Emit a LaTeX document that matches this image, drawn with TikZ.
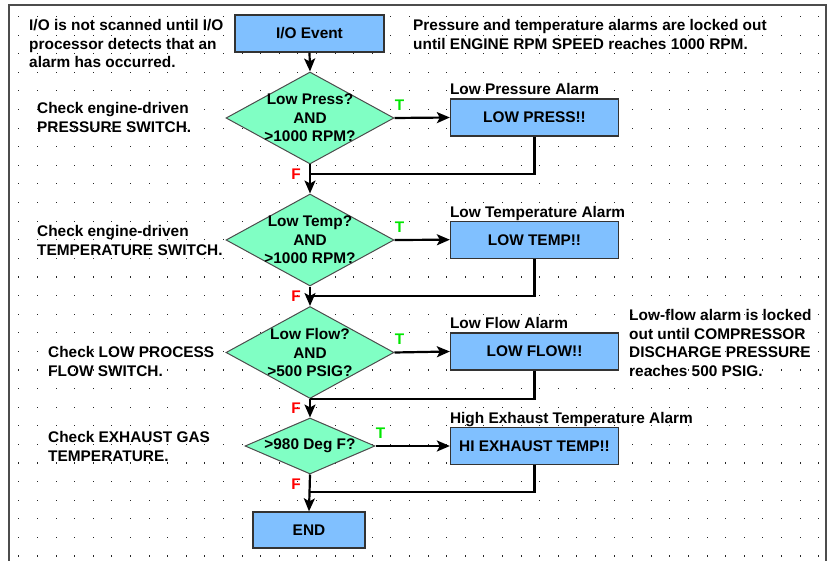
\documentclass[tikz,border=0pt]{standalone}
\usepackage{fontspec}
\setmainfont{Liberation Sans}
\usetikzlibrary{shapes.geometric}
\usepgflibrary{arrows.meta}
\definecolor{boxblue}{RGB}{128,192,255}
\definecolor{diagreen}{RGB}{128,255,196}
\definecolor{tgreen}{RGB}{0,230,0}
\definecolor{fred}{RGB}{255,0,0}
\newcommand{\chartfont}{\fontsize{15.4}{18.5}\selectfont\bfseries}

\begin{document}
\begin{tikzpicture}[x=1pt,y=-1pt,
	note/.style={font=\chartfont, inner sep=0pt, align=left, anchor=north west},
	alarm/.style={draw=black!80, line width=1.3pt, fill=boxblue, minimum width=168pt, minimum height=37pt, inner sep=0pt, font=\chartfont},
	decision/.style={diamond, draw=black!70, line width=1pt, fill=diagreen, inner sep=0pt, minimum width=168pt, minimum height=92pt},
	dtxt/.style={font=\chartfont, inner sep=0pt, align=center},
	tlab/.style={font=\chartfont, text=tgreen, inner sep=0pt},
	flab/.style={font=\chartfont, text=fred, inner sep=0pt},
	line/.style={line width=2.2pt},
	flow/.style={line width=2.2pt, -{Stealth[length=13pt,width=11pt,inset=3pt]}}]

		\useasboundingbox (0,0) rectangle (834,561);
		\foreach \i in {0,...,43}
			\foreach \j in {0,...,29}
				\fill[black!85] (18.3+18.6*\i,16+18.6*\j) rectangle ++(1.1,1.1);
		\draw [line width=2pt, black!70] (8.5,561) |- (826,5) -- (826,561);

		\node[alarm, minimum width=149pt] (ioevent) at (309.5,33.5) {I/O Event};
		\node[decision] (press) at (310,118) {};
		\node[decision] (temp) at (310,240) {};
		\node[decision] (flow) at (310,352.5) {};
		\node[decision, minimum width=130pt, minimum height=56pt] (exh) at (310,446) {};
		\node[alarm, minimum width=112pt, minimum height=36pt] (endbox) at (309,530) {END};

		\node[dtxt] (presstxt) at (press.center) {Low Press?\\AND\\>1000 RPM?};
		\node[dtxt] (temptxt) at (temp.center) {Low Temp?\\AND\\>1000 RPM?};
		\node[dtxt] (flowtxt) at (flow.center) {Low Flow?\\AND\\>500 PSIG?};
		\node[dtxt] (exhtxt) at (exh.center) {>980 Deg F?};

		\node[alarm] (lowpress) at (534.5,117.5) {LOW PRESS!!};
		\node[alarm] (lowtemp) at (534.5,239.7) {LOW TEMP!!};
		\node[alarm] (lowflow) at (534.5,351.5) {LOW FLOW!!};
		\node[alarm] (hiexh) at (534.5,446) {HI EXHAUST TEMP!!};

		\node[note, anchor=base west] (lowpresslab) at ([yshift=3.5pt]lowpress.north west) {Low Pressure Alarm};
		\node[note, anchor=base west] (lowtemplab) at ([yshift=3.5pt]lowtemp.north west) {Low Temperature Alarm};
		\node[note, anchor=base west] (lowflowlab) at ([yshift=3.5pt]lowflow.north west) {Low Flow Alarm};
		\node[note, anchor=base west] (hiexhlab) at ([yshift=3.5pt]hiexh.north west) {High Exhaust Temperature Alarm};

		\node[note] (scannote) at (29,19.5) {I/O is not scanned until I/O\\processor detects that an\\alarm has occurred.};
		\node[note] (lockrpm) at (413,19.5) {Pressure and temperature alarms are locked out\\until ENGINE RPM SPEED reaches 1000 RPM.};
		\node[note] (pressnote) at (37,102.5) {Check engine-driven\\PRESSURE SWITCH.};
		\node[note] (tempnote) at (37,225.5) {Check engine-driven\\TEMPERATURE SWITCH.};
		\node[note] (flownote) at (48,346.5) {Check LOW PROCESS\\FLOW SWITCH.};
		\node[note] (exhnote) at (48,431.5) {Check EXHAUST GAS\\TEMPERATURE.};
		\node[note] (lockflow) at (629,309.5) {Low-flow alarm is locked\\out until COMPRESSOR\\DISCHARGE PRESSURE\\reaches 500 PSIG.};

		\coordinate (pressj) at (310,174);
		\coordinate (tempj) at (310,296);
		\coordinate (flowj) at (310,399);
		\coordinate (exhj) at (310,492);

		\draw[flow] (ioevent.south) -- (press.north);
		\draw[flow] (press.south) -- (temp.north);
		\draw[flow] (temp.south) -- (flow.north);
		\draw[flow] (flow.south) -- (exh.north);
		\draw[flow] (exh.south) -- (endbox.north);

		\draw[flow] (press.east) -- (lowpress.west);
		\draw[flow] (temp.east) -- (lowtemp.west);
		\draw[flow] (flow.east) -- (lowflow.west);
		\draw[flow] (exh.east) -- (hiexh.west);

		\draw[line] (lowpress.south) |- (pressj);
		\draw[line] (lowtemp.south) |- (tempj);
		\draw[line] (lowflow.south) |- (flowj);
		\draw[line] (hiexh.south) |- (exhj);

		\node[tlab] (presst) at ([xshift=5pt,yshift=13pt]press.east) {T};
		\node[tlab] (tempt) at ([xshift=5pt,yshift=13pt]temp.east) {T};
		\node[tlab] (flowt) at ([xshift=5pt,yshift=13pt]flow.east) {T};
		\node[tlab] (exht) at ([xshift=5pt,yshift=13pt]exh.east) {T};
		\node[flab] (pressf) at ([xshift=-14pt,yshift=-9.5pt]press.south) {F};
		\node[flab] (tempf) at ([xshift=-14pt,yshift=-9.5pt]temp.south) {F};
		\node[flab] (flowf) at ([xshift=-14pt,yshift=-9.5pt]flow.south) {F};
		\node[flab] (exhf) at ([xshift=-14pt,yshift=-9.5pt]exh.south) {F};

	\end{tikzpicture}
\end{document}
